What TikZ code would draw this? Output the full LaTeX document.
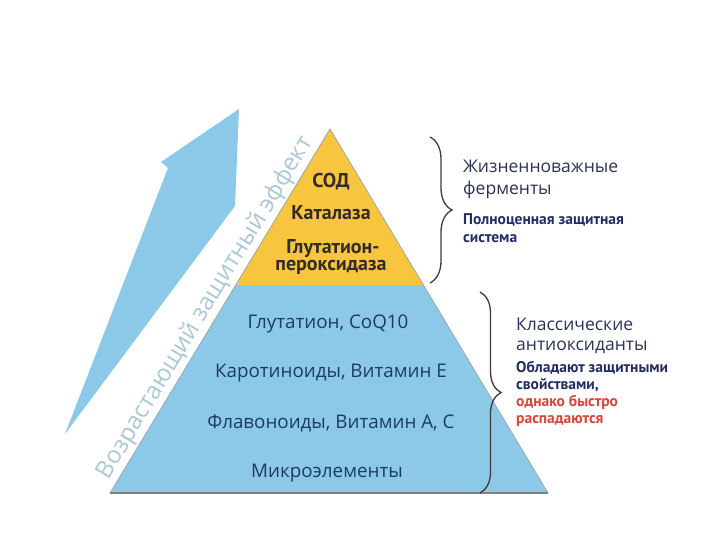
\documentclass[tikz,border=0pt]{standalone}
\usepackage{fontspec}
\setmainfont{PT Sans}
\newfontfamily\osans{Open Sans}
\usetikzlibrary{decorations.pathreplacing}
\definecolor{pyrblue}{RGB}{140,201,233}
\definecolor{pyryel}{RGB}{247,197,62}
\definecolor{txtblue}{RGB}{28,60,95}
\definecolor{txtdark}{RGB}{50,45,40}
\definecolor{hdrcol}{RGB}{42,52,82}
\definecolor{subcol}{RGB}{35,45,100}
\definecolor{redcol}{RGB}{214,70,58}
\definecolor{sidecol}{RGB}{172,200,212}
\definecolor{edgecol}{RGB}{120,130,135}
\definecolor{bracecol}{RGB}{60,60,60}
\tikzset{
  pyrtxt/.style={text=txtblue, font=\osans\fontsize{18.8}{22}\selectfont, inner sep=0pt, anchor=base},
  yeltxt/.style={text=txtdark, font=\bfseries\fontsize{20}{23}\selectfont, inner sep=0pt, anchor=base},
  hdrtxt/.style={text=hdrcol, font=\osans\fontsize{17.5}{20}\selectfont, inner sep=0pt, anchor=base west},
  subtxt/.style={text=subcol, font=\bfseries\fontsize{15.5}{18}\selectfont, inner sep=0pt, anchor=base west},
  redtxt/.style={subtxt, text=redcol},
  curly/.style={draw=bracecol, line width=1.3pt, decorate, decoration={brace, amplitude=#1}},
}
\begin{document}
\begin{tikzpicture}[x=1pt,y=-1pt]
\useasboundingbox (0,0) rectangle (720,540);
\fill[white] (0,0) rectangle (720,540);
% pyramid
\coordinate (apex) at (330,129);
\coordinate (bl) at (110,493);
\coordinate (br) at (548,493);
\coordinate (ml) at (235.7,285);
\coordinate (mr) at (423.5,285);
\fill[pyryel] (apex) -- (mr) -- (ml) -- cycle;
\fill[pyrblue] (ml) -- (mr) -- (br) -- (bl) -- cycle;
\draw[edgecol!70, line width=0.8pt] (bl) -- (apex) -- (br);
\draw[edgecol, line width=2pt] (bl) -- (br);
% arrow
\fill[pyrblue] (65,434) -- (168,168) -- (161,162) -- (239,109) -- (235,206) -- cycle;
% rotated label
\node[text=sidecol, font=\osans\fontsize{24}{28}\selectfont, inner sep=0pt, anchor=base, rotate=58.85] (side) at (211,311) {Возрастающий защитный эффект};
% yellow texts
\node[yeltxt] (sod) at (331,188) {СОД};
\node[yeltxt] (kat) at (331,220) {Каталаза};
\node[yeltxt] (glp1) at (333,253) {Глутатион-};
\node[yeltxt] (glp2) at (331,270) {пероксидаза};
% blue texts
\node[pyrtxt] (g1) at (328,328) {Глутатион, CoQ10};
\node[pyrtxt] (g2) at (331,377) {Каротиноиды, Витамин E};
\node[pyrtxt] (g3) at (331,428) {Флавоноиды, Витамин A, C};
\node[pyrtxt] (g4) at (327,477) {Микроэлементы};
% braces
\coordinate (b1t) at (430,137);
\coordinate (b1b) at (430,283);
\coordinate (b2t) at (480,292);
\coordinate (b2b) at (480,493);
\draw[curly=22pt] (b1t) -- (b1b);
\draw[curly=21pt] (b2t) -- (b2b);
% right texts
\node[hdrtxt] (h1a) at (463,173) {Жизненноважные};
\node[hdrtxt] (h1b) at (463,195) {ферменты};
\node[subtxt] (s1a) at (463,225) {Полноценная защитная};
\node[subtxt] (s1b) at (463,242) {система};
\node[hdrtxt] (h2a) at (516,330) {Классические};
\node[hdrtxt] (h2b) at (516,350) {антиоксиданты};
\node[subtxt] (s2a) at (516,372) {Обладают защитными};
\node[subtxt] (s2b) at (516,389) {свойствами,};
\node[redtxt] (s2c) at (516,406) {однако быстро};
\node[redtxt] (s2d) at (516,423) {распадаются};
\end{tikzpicture}
\end{document}
